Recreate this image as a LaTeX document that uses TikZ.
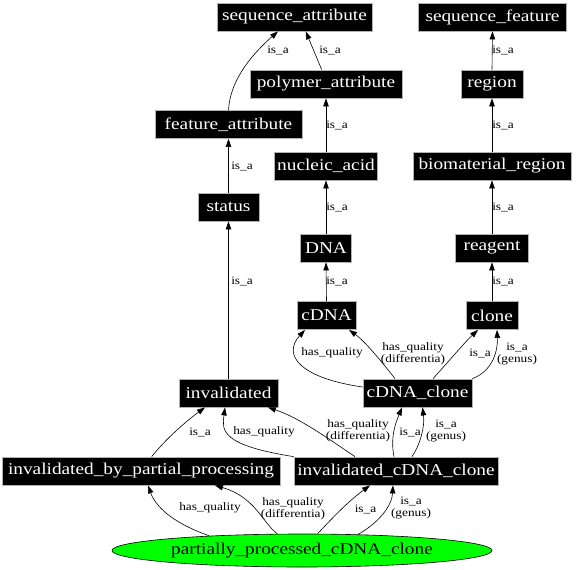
\documentclass[tikz,border=0pt]{standalone}
\usepackage{fontspec}
\setmainfont[FakeStretch=1.17]{Liberation Serif}
\usetikzlibrary{arrows.meta,shapes.geometric}
\newcommand\ndfont{\fontsize{16.5}{18}\selectfont}
\newcommand\lbfont{\fontsize{11.4}{12.4}\selectfont}
\definecolor{nodegreen}{RGB}{0,255,0}
\tikzset{
  cls/.style={rectangle, fill=black, draw=gray!60, line width=0.8pt, text=white,
    font=\ndfont, minimum height=28pt, inner xsep=2pt, inner ysep=0pt},
  lbl/.style={font=\lbfont, inner sep=0pt, align=center},
  rel/.style={-{Triangle[length=8pt,width=5.5pt]}, line width=0.6pt}
}
\begin{document}
\begin{tikzpicture}[x=1pt,y=-1pt]
\useasboundingbox (0,0) rectangle (576,570);
% nodes
\node[cls, minimum width=155pt] (sa) at (294.5,17) {sequence\_attribute};
\node[cls, minimum width=148pt] (sf) at (492.5,17) {sequence\_feature};
\node[cls, minimum width=152pt] (pa) at (326,84) {polymer\_attribute};
\node[cls, minimum width=62pt] (rg) at (492,84) {region};
\node[cls, minimum width=147pt] (fa) at (228.5,124.5) {feature\_attribute};
\node[cls, minimum width=103pt] (na) at (326,166) {nucleic\_acid};
\node[cls, minimum width=158pt] (bm) at (492,166) {biomaterial\_region};
\node[cls, minimum width=61pt] (st) at (228.5,207) {status};
\node[cls, minimum width=51pt] (dna) at (326,248) {DNA};
\node[cls, minimum width=73.5pt] (rea) at (492,248) {reagent};
\node[cls, minimum width=59pt] (cdna) at (326.5,315.5) {cDNA};
\node[cls, minimum width=52pt] (cl) at (492,315.5) {clone};
\node[cls, minimum width=99pt] (inv) at (228.5,393) {invalidated};
\node[cls, minimum width=109pt] (cc) at (417.5,393) {cDNA\_clone};
\node[cls, minimum width=278pt] (ibpp) at (141,471) {invalidated\_by\_partial\_processing};
\node[cls, minimum width=204pt] (icc) at (396,471) {invalidated\_cDNA\_clone};
\node[ellipse, draw=black, line width=0.6pt, fill=nodegreen, minimum width=380pt,
  minimum height=33pt, inner sep=0pt, font=\ndfont] (ppc) at (302,550.5)
  {partially\_processed\_cDNA\_clone};
% edges
\draw[rel] (fa.north) .. controls (230,82) and (249,57) .. ([xshift=-16.5pt]sa.south);
\draw[rel] ([xshift=-4.3pt]pa.north) -- ([xshift=11.2pt]sa.south);
\draw[rel] (rg.north) -- (sf.south);
\draw[rel] (na.north) -- (pa.south);
\draw[rel] (bm.north) -- (rg.south);
\draw[rel] (st.north) -- (fa.south);
\draw[rel] (dna.north) -- (na.south);
\draw[rel] (rea.north) -- (bm.south);
\draw[rel] (inv.north) -- (st.south);
\draw[rel] (cdna.north) -- (dna.south);
\draw[rel] (cl.north) -- (rea.south);
\draw[rel] ([yshift=6pt]cc.west) .. controls (300,378) and (282,355) .. ([xshift=-21.5pt]cdna.south);
\draw[rel] ([xshift=-22.5pt]cc.north) .. controls (385,366) and (366,342) .. ([xshift=22.5pt]cdna.south);
\draw[rel] ([xshift=15.5pt]cc.north) .. controls (450,360) and (465,342) .. ([xshift=-14pt]cl.south);
\draw[rel] (cc.north east) .. controls (490,372) and (498,355) .. ([xshift=5pt]cl.south);
\draw[rel] ([xshift=10.7pt]ibpp.north) .. controls (165,440) and (185,422) .. ([xshift=-23.5pt]inv.south);
\draw[rel] (icc.north west) .. controls (220,445) and (222,430) .. ([xshift=-3.5pt]inv.south);
\draw[rel] ([xshift=-41pt]icc.north) .. controls (330,440) and (300,418) .. ([xshift=39.5pt]inv.south);
\draw[rel] ([xshift=-2pt]icc.north) .. controls (390,437) and (396,422) .. ([xshift=-15.5pt]cc.south);
\draw[rel] ([xshift=16pt]icc.north) .. controls (420,445) and (425,427) .. ([xshift=5pt]cc.south);
\draw[rel] (ppc.171.4) .. controls (170,522) and (155,505) .. ([xshift=7pt]ibpp.south);
\draw[rel] (ppc.146.8) .. controls (262,522) and (255,497) .. ([xshift=74pt]ibpp.south);
\draw[rel] (ppc.47.6) .. controls (335,515) and (350,500) .. ([xshift=-26pt]icc.south);
\draw[rel] (ppc.16.3) .. controls (380,522) and (392,505) .. ([xshift=-3pt]icc.south);
% labels
\node[lbl] (l1) at (278,50) {is\_a};
\node[lbl] (l2) at (330,50) {is\_a};
\node[lbl] (l3) at (503,50) {is\_a};
\node[lbl] (l4) at (337,125) {is\_a};
\node[lbl] (l5) at (503,125) {is\_a};
\node[lbl] (l6) at (242,166) {is\_a};
\node[lbl] (l7) at (337,207) {is\_a};
\node[lbl] (l8) at (503,207) {is\_a};
\node[lbl] (l9) at (242,281) {is\_a};
\node[lbl] (l10) at (337,281) {is\_a};
\node[lbl] (l11) at (503,281) {is\_a};
\node[lbl] (l12) at (332,353) {has\_quality};
\node[lbl] (l13) at (413,354) {has\_quality\\(differentia)};
\node[lbl] (l14) at (480,353) {is\_a};
\node[lbl] (l15) at (517,354) {is\_a\\(genus)};
\node[lbl] (l16) at (200,432) {is\_a};
\node[lbl] (l17) at (264,432) {has\_quality};
\node[lbl] (l18) at (358,431) {has\_quality\\(differentia)};
\node[lbl] (l19) at (410,432) {is\_a};
\node[lbl] (l20) at (446,431) {is\_a\\(genus)};
\node[lbl] (l21) at (210,508) {has\_quality};
\node[lbl] (l22) at (293,509) {has\_quality\\(differentia)};
\node[lbl] (l23) at (365.5,509) {is\_a};
\node[lbl] (l24) at (411,508) {is\_a\\(genus)};
\end{tikzpicture}
\end{document}
